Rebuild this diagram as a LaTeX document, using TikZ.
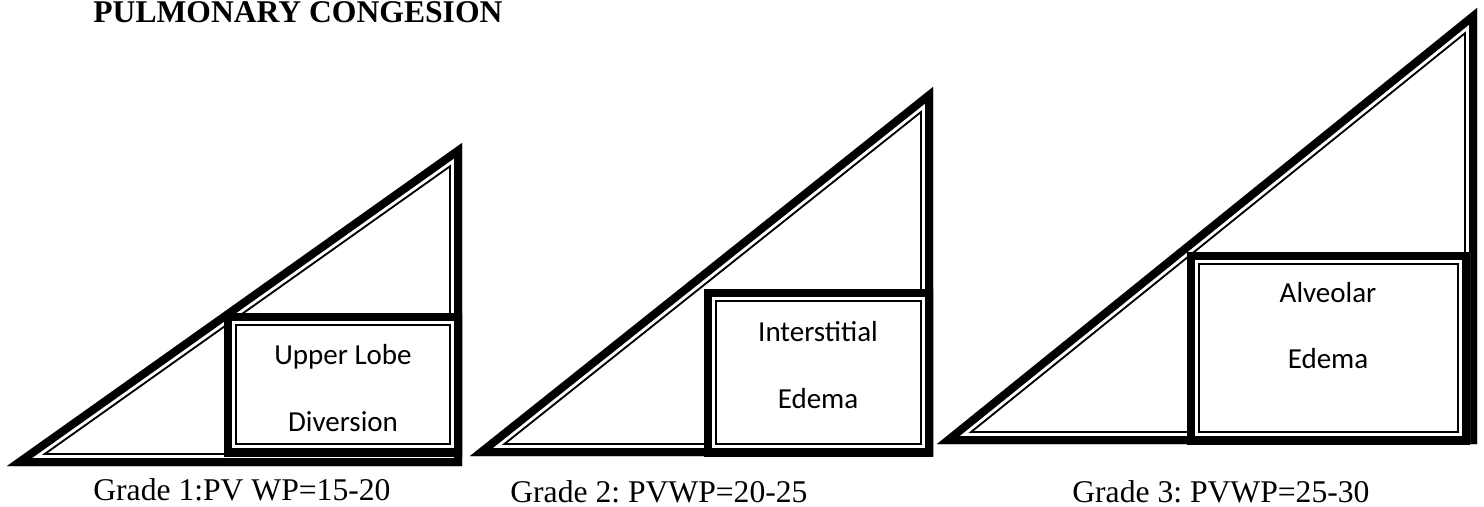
\documentclass[tikz,border=0pt]{standalone}
\usepackage{fontspec}
\setmainfont{Liberation Serif}
\newfontfamily\calibri{Carlito}
\frenchspacing

% linea doble: gruesa fuera, fina dentro
\newcommand{\gruesafina}[1]{%
  \begin{scope}
    \clip #1;
    \draw[line width=0.52cm] #1;
    \draw[line width=0.44cm, white] #1;
    \draw[line width=0.32cm] #1;
  \end{scope}}

\tikzset{
  textocaja/.style={anchor=base, inner sep=0pt, font=\calibri\fontsize{16.5}{20}\selectfont},
  pie/.style={anchor=base west, inner sep=0pt, font=\fontsize{18}{22}\selectfont}
}

\begin{document}
\begin{tikzpicture}[x=0.02cm, y=-0.02cm]
\useasboundingbox (0,0) rectangle (1484,507);

\node[anchor=base west, inner sep=0pt, font=\bfseries\fontsize{18}{22}\selectfont] (titulo) at (93,22) {PULMONARY CONGESION};

% Grado 1
\gruesafina{(7,466) -- (462,466) -- (462,143) -- cycle}
\fill[white] (224,313) rectangle (462,456);
\gruesafina{(224,313) rectangle (462,456)}
\node[textocaja] (uno a) at (343,364) {Upper Lobe};
\node[textocaja] (uno b) at (343,431) {Diversion};
\node[pie] (pie uno) at (93,500) {Grade 1:PV WP=15-20};

% Grado 2
\gruesafina{(470,456) -- (933,456) -- (933,87) -- cycle}
\fill[white] (704,289) rectangle (933,456);
\gruesafina{(704,289) rectangle (933,456)}
\node[textocaja] (dos a) at (818,341) {Interstitial};
\node[textocaja] (dos b) at (818,408) {Edema};
\node[pie] (pie dos) at (510,502) {Grade 2: PVWP=20-25};

% Grado 3
\gruesafina{(937,444) -- (1477,444) -- (1477,8) -- cycle}
\fill[white] (1187,252) rectangle (1470,444);
\gruesafina{(1187,252) rectangle (1470,444)}
\node[textocaja] (tres a) at (1328,302) {Alveolar};
\node[textocaja] (tres b) at (1328,368) {Edema};
\node[pie] (pie tres) at (1072,502) {Grade 3: PVWP=25-30};

\end{tikzpicture}
\end{document}
